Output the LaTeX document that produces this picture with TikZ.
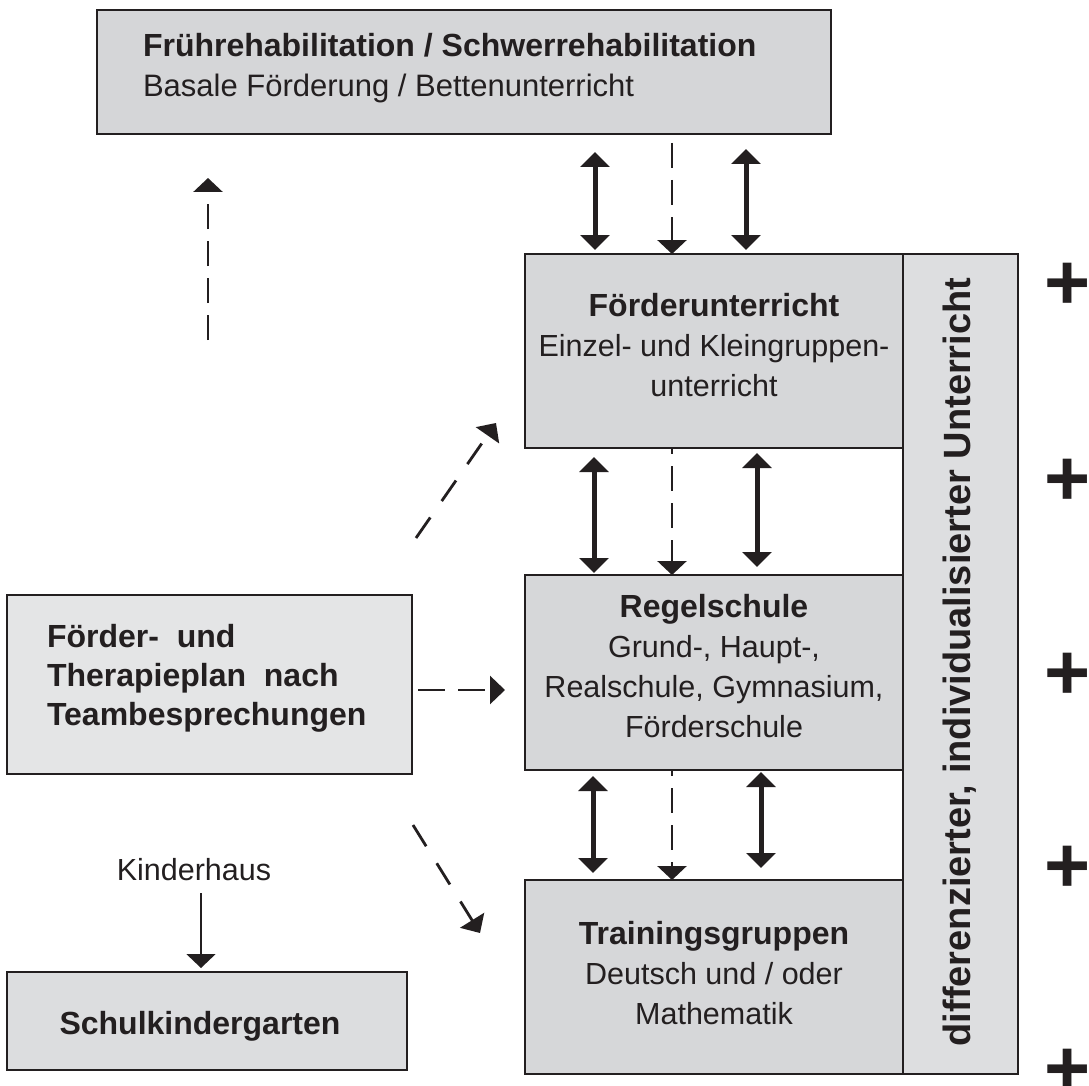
\documentclass[tikz,border=0pt]{standalone}
\usepackage{fontspec}
\setmainfont{Liberation Sans}
\usetikzlibrary{arrows.meta}
\definecolor{ink}{HTML}{231F20}
\definecolor{topfill}{HTML}{D5D6D8}
\definecolor{midfill}{HTML}{D6D7D9}
\definecolor{vertfill}{HTML}{DDDEE0}
\definecolor{leftfill}{HTML}{E4E5E6}
\definecolor{kgfill}{HTML}{DCDDDF}
\newcommand\bstr{\rule[-10pt]{0pt}{38pt}}
\newcommand\hb[1]{{\fontsize{32}{40}\selectfont\bfseries #1}}
\begin{document}
\begin{tikzpicture}[x=1pt,y=-1pt,
  box/.style={draw=ink, line width=2.6pt, rectangle, inner sep=0pt, outer sep=0pt},
  txt/.style={inner sep=0pt, outer sep=0pt, text=ink, font=\fontsize{30.5}{40}\selectfont, align=center},
  dbl/.style={draw=ink, line width=5pt, {Triangle[width=29pt,length=15pt]}-{Triangle[width=29pt,length=15pt]}},
  dsh/.style={draw=ink, line width=2.8pt, dash pattern=on 25pt off 12pt, -{Triangle[width=29pt,length=14pt]}},
  dshd/.style={draw=ink, line width=2.8pt, dash pattern=on 25pt off 20pt, -{Triangle[width=28pt,length=15pt]}},
  dshh/.style={draw=ink, line width=2.8pt, dash pattern=on 27pt off 13pt, -{Triangle[width=28pt,length=15pt]}},
  sol/.style={draw=ink, line width=2pt, -{Triangle[width=29pt,length=14pt]}},
  plus/.style={anchor=base, inner sep=0pt, outer sep=0pt, text=ink, font=\fontsize{79}{79}\selectfont\bfseries}
]
\fill[white] (0,0) rectangle (1089,1086);
\useasboundingbox (0,0) rectangle (1089,1086);

% boxes
\node[box, fill=topfill, minimum width=734pt, minimum height=124pt] (top) at (464,72) {};
\node[box, fill=vertfill, minimum width=115pt, minimum height=820pt] (vert) at (960.5,664) {};
\node[box, fill=midfill, minimum width=378pt, minimum height=194pt] (foe) at (714,351) {};
\node[box, fill=midfill, minimum width=378pt, minimum height=195pt] (regel) at (714,672.5) {};
\node[box, fill=midfill, minimum width=378pt, minimum height=194pt] (train) at (714,977) {};
\node[box, fill=leftfill, minimum width=405pt, minimum height=179pt] (lbox) at (209.5,684.5) {};
\node[box, fill=kgfill, minimum width=400pt, minimum height=98pt] (kg) at (207,1021) {};

% texts
\node[txt, align=left, anchor=west] (toptxt) at (143,68)
  {\hb{Frührehabilitation / Schwerrehabilitation}\bstr\\
   {\fontsize{31}{40}\selectfont Basale Förderung / Bettenunterricht}\bstr};
\node[txt] (foetxt) at (714,347)
  {\hb{Förderunterricht}\bstr\\ Einzel- und Kleingruppen-\bstr\\ unterricht\bstr};
\node[txt] (regeltxt) at (714,668)
  {\hb{Regelschule}\bstr\\ Grund-, Haupt-,\bstr\\ Realschule, Gymnasium,\bstr\\ Förderschule\bstr};
\node[txt] (traintxt) at (714,975)
  {\hb{Trainingsgruppen}\bstr\\ Deutsch und / oder\bstr\\ Mathematik\bstr};
\node[txt, align=left, anchor=west, font=\fontsize{32}{39}\selectfont\bfseries] (ltxt) at (47,677)
  {Förder-\ \ und\bstr\\ Therapieplan\ \ nach\bstr\\ Teambesprechungen\bstr};
\node[txt, font=\fontsize{32}{40}\selectfont\bfseries] (kgtxt) at (200,1025) {Schulkindergarten\bstr};
\node[txt] (kh) at (194,871) {Kinderhaus\bstr};
\node[txt, rotate=90, font=\fontsize{38}{40}\selectfont\bfseries] (vtxt) at (960,662)
  {differenzierter, individualisierter Unterricht};

% plus signs
\node[plus] (p1) at (1068,309) {+};
\node[plus] (p2) at (1068,505) {+};
\node[plus] (p3) at (1068,699) {+};
\node[plus] (p4) at (1068,892) {+};
\node[plus] (p5) at (1068,1095) {+};

% x positions of vertical connectors
\coordinate (xL1) at (595,0);
\coordinate (xD) at (672,0);
\coordinate (xR1) at (746,0);
\coordinate (xL2) at (594,0);
\coordinate (xR2) at (757,0);
\coordinate (xL3) at (593,0);
\coordinate (xR3) at (761,0);
\coordinate (hy) at (0,690);
\coordinate (kx) at (201,0);

% gap top -> Foerderunterricht
\draw[dbl, shorten <=18pt, shorten >=4pt] (top.south -| xL1) -- (foe.north -| xL1);
\draw[dsh, shorten <=9pt] (top.south -| xD) -- (foe.north -| xD);
\draw[dbl, shorten <=15pt, shorten >=4pt] (top.south -| xR1) -- (foe.north -| xR1);
% gap Foerderunterricht -> Regelschule
\draw[dbl, shorten <=9pt, shorten >=2pt] (foe.south -| xL2) -- (regel.north -| xL2);
\draw[dsh, dash phase=19pt] (foe.south -| xD) -- (regel.north -| xD);
\draw[dbl, shorten <=5pt, shorten >=8pt] (foe.south -| xR2) -- (regel.north -| xR2);
% gap Regelschule -> Trainingsgruppen
\draw[dbl, shorten <=6pt, shorten >=7pt] (regel.south -| xL3) -- (train.north -| xL3);
\draw[dsh, dash phase=19pt] (regel.south -| xD) -- (train.north -| xD);
\draw[dbl, shorten <=2pt, shorten >=12pt] (regel.south -| xR3) -- (train.north -| xR3);

% left dashed arrows
\coordinate (u0) at (208,340);
\coordinate (u1) at (208,178);
\draw[dsh] (u0) -- (u1);
\coordinate (d1a) at (416,538);
\coordinate (d1b) at (496,423);
\draw[dshd] (d1a) -- (d1b);
\draw[dshh, shorten <=6pt, shorten >=20pt] (lbox.east |- hy) -- (regel.west |- hy);
\coordinate (d2a) at (413,825);
\coordinate (d2b) at (480,933);
\draw[dshd] (d2a) -- (d2b);

% Kinderhaus -> Schulkindergarten
\draw[sol, shorten <=3pt, shorten >=4pt] (kh.south -| kx) -- (kg.north -| kx);
\end{tikzpicture}
\end{document}
